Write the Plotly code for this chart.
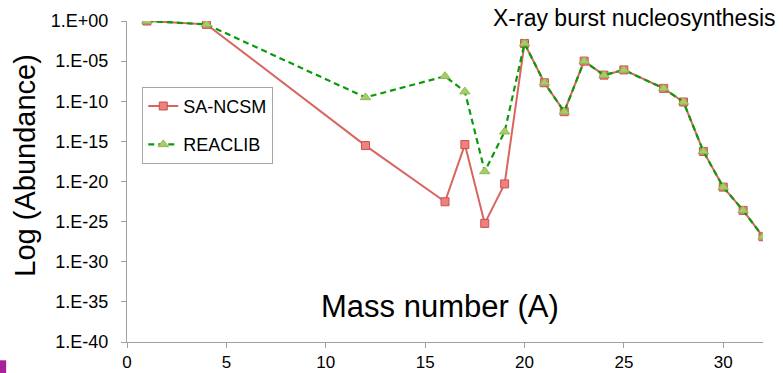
import plotly.graph_objects as go

# Data
mass_sa = [1, 4, 12, 16, 17, 18, 19, 20, 21, 22, 23, 24, 25, 27, 28, 29, 30, 31, 32]
abund_sa = [1.0, 0.38, 3e-16, 3e-23, 4e-16, 6e-26, 5e-21, 1.6e-3, 2e-8, 5e-12, 1e-5,
            1.8e-7, 8e-7, 4e-9, 8e-11, 5.6e-17, 2e-21, 2.5e-24, 1.3e-27]

mass_re = [1, 4, 12, 16, 17, 18, 19, 20, 21, 22, 23, 24, 25, 27, 28, 29, 30, 31, 32]
abund_re = [1.0, 0.38, 3e-10, 1.3e-7, 1.6e-9, 1.8e-19, 1.6e-14, 1.6e-3, 2e-8, 5e-12, 1e-5,
            1.8e-7, 8e-7, 4e-9, 8e-11, 5.6e-17, 2e-21, 2.5e-24, 1.3e-27]

ytick_vals = [1e0, 1e-5, 1e-10, 1e-15, 1e-20, 1e-25, 1e-30, 1e-35, 1e-40]
ytick_text = ["1.E+00", "1.E-05", "1.E-10", "1.E-15", "1.E-20", "1.E-25", "1.E-30", "1.E-35", "1.E-40"]
xtick_vals = [0, 5, 10, 15, 20, 25, 30]

FONT = "Liberation Sans, Arial, sans-serif"

fig = go.Figure()
fig.add_trace(go.Scatter(
    x=mass_sa, y=abund_sa, name="SA-NCSM", mode="lines+markers",
    line=dict(color="#d9655f", width=2),
    marker=dict(symbol="square", size=8, color="#ef8080",
                line=dict(color="#c9524e", width=1)),
    legendgroup="a",
))
fig.add_trace(go.Scatter(
    x=mass_re, y=abund_re, name="REACLIB", mode="lines+markers",
    line=dict(color="#0a9a0a", width=2.2, dash="6px,4px"),
    marker=dict(symbol="triangle-up", size=9, color="#a9cc6a",
                line=dict(color="#8fb84f", width=1)),
    legendgroup="b",
))

fig.update_layout(
    width=783, height=373,
    margin=dict(l=127, r=20, t=21, b=31),
    paper_bgcolor="white", plot_bgcolor="white",
    font=dict(family=FONT, color="black"),
    showlegend=True,
    legend=dict(
        x=0.024, y=0.795, xanchor="left", yanchor="top",
        bordercolor="#a6a6a6", borderwidth=1,
        font=dict(size=18, family=FONT, color="black"),
        tracegroupgap=12, traceorder="grouped",
        bgcolor="white",
    ),
    xaxis=dict(
        range=[0, 32], tickvals=xtick_vals, showgrid=False, zeroline=False,
        showline=True, linecolor="#a0a0a0", linewidth=1, automargin=False,
        ticks="outside", ticklen=5, tickcolor="#a0a0a0",
        tickfont=dict(size=17, family=FONT, color="black"),
    ),
    yaxis=dict(
        type="log", range=[-40, 0], tickvals=ytick_vals, ticktext=ytick_text,
        showgrid=False, zeroline=False, automargin=False,
        showline=True, linecolor="#a0a0a0", linewidth=1,
        ticks="outside", ticklen=5, tickcolor="#a0a0a0",
        ticklabelstandoff=9,
        tickfont=dict(size=18, family=FONT, color="black"),
    ),
    annotations=[
        dict(text="Log (Abundance)", xref="paper", yref="paper",
             x=-0.16, y=0.55, xanchor="center", yanchor="middle",
             textangle=-90, showarrow=False,
             font=dict(size=29, family=FONT, color="black")),
        dict(text="Mass number (A)", xref="paper", yref="paper",
             x=0.492, y=0.11, xanchor="center", yanchor="middle",
             showarrow=False, font=dict(size=31, family=FONT, color="black")),
        dict(text="X-ray burst nucleosynthesis", xref="paper", yref="paper",
             x=1.024, y=1.01, xanchor="right", yanchor="middle",
             showarrow=False, font=dict(size=23, family=FONT, color="black")),
    ],
    shapes=[
        dict(type="rect", xref="paper", yref="paper",
             x0=-0.1997, x1=-0.190, y0=-0.0976, y1=-0.057,
             fillcolor="#a8209c", line=dict(width=0)),
    ],
)

fig.write_html("out.html")
